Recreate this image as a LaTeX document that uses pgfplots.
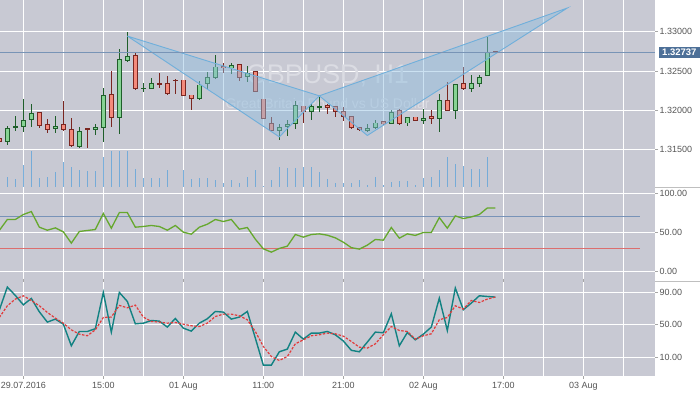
\documentclass[border=0pt]{standalone}
\usepackage{fontspec}
\setmainfont{Liberation Sans}
\usepackage{pgfplots}
\usepackage{pgfplotstable}
\pgfplotsset{compat=1.18}

\definecolor{bg}{HTML}{C8C9D3}
\definecolor{gfill}{HTML}{86D393}
\definecolor{gline}{HTML}{1F5E2A}
\definecolor{rfill}{HTML}{F48A7B}
\definecolor{rline}{HTML}{7A2620}
\definecolor{vol}{HTML}{6CA8D9}
\definecolor{pline}{HTML}{7894B6}
\definecolor{pbox}{HTML}{4D7098}
\definecolor{pat}{HTML}{8DBDE0}
\definecolor{patedge}{HTML}{6FAFDB}
\definecolor{rsi}{HTML}{66A82E}
\definecolor{stoch}{HTML}{128282}
\definecolor{sig}{HTML}{E23B3B}
\definecolor{lvlblue}{HTML}{7893B8}
\definecolor{lvlred}{HTML}{DC6E6E}
\definecolor{wm}{HTML}{DBDCE3}
\definecolor{tickc}{HTML}{555555}

% green (bullish) candles: i open high low close
\pgfplotstableread{
i o h l c
0 1.31597 1.31797 1.31563 1.31780
1 1.31784 1.31924 1.31737 1.31792
2 1.31788 1.32141 1.31724 1.31882
3 1.31882 1.32077 1.31788 1.31972
6 1.31762 1.31924 1.31711 1.31806
9 1.31533 1.31784 1.31520 1.31742
11 1.31755 1.31822 1.31686 1.31784
12 1.31780 1.32282 1.31597 1.32188
14 1.31908 1.32779 1.31699 1.32648
15 1.32630 1.32992 1.32617 1.32686
17 1.32275 1.32342 1.32234 1.32282
18 1.32278 1.32405 1.32278 1.32342
24 1.32145 1.32367 1.32132 1.32329
25 1.32329 1.32495 1.32278 1.32418
26 1.32418 1.32699 1.32393 1.32558
28 1.32533 1.32609 1.32469 1.32571
30 1.32418 1.32562 1.32362 1.32469
34 1.31742 1.31831 1.31627 1.31793
35 1.31788 1.31873 1.31673 1.31831
36 1.31831 1.32112 1.31762 1.32061
38 1.31972 1.32086 1.31882 1.32048
39 1.32044 1.32171 1.31984 1.32048
45 1.31742 1.31831 1.31729 1.31780
46 1.31780 1.31882 1.31768 1.31844
48 1.31831 1.31997 1.31831 1.31984
50 1.31831 1.31908 1.31801 1.31908
52 1.31870 1.32023 1.31831 1.31908
54 1.31895 1.32214 1.31729 1.32125
56 1.31997 1.32329 1.31895 1.32329
58 1.32278 1.32444 1.32227 1.32342
59 1.32342 1.32444 1.32291 1.32431
60 1.32431 1.32936 1.32431 1.32737
}\greencandles

% red (bearish) candles
\pgfplotstableread{
i o h l c
-1 1.31653 1.31669 1.31580 1.31597
4 1.31984 1.31984 1.31775 1.31801
5 1.31831 1.31886 1.31711 1.31755
7 1.31831 1.32116 1.31733 1.31755
8 1.31768 1.31899 1.31533 1.31546
10 1.31771 1.31780 1.31520 1.31764
13 1.32214 1.32498 1.31788 1.31908
16 1.32699 1.32728 1.32265 1.32278
19 1.32342 1.32473 1.32291 1.32333
20 1.32342 1.32431 1.32196 1.32214
21 1.32387 1.32393 1.32205 1.32380
22 1.32393 1.32393 1.32188 1.32188
23 1.32201 1.32201 1.32010 1.32150
27 1.32566 1.32597 1.32477 1.32533
29 1.32584 1.32584 1.32375 1.32418
31 1.32495 1.32495 1.32227 1.32227
32 1.32150 1.32150 1.31895 1.31895
33 1.31844 1.31912 1.31742 1.31742
37 1.32061 1.32061 1.31844 1.31972
40 1.32061 1.32086 1.31946 1.32035
41 1.32048 1.32048 1.31921 1.31984
42 1.31997 1.32048 1.31870 1.31921
43 1.31933 1.31933 1.31755 1.31780
44 1.31793 1.31793 1.31733 1.31755
47 1.31857 1.31857 1.31819 1.31831
49 1.31997 1.32010 1.31806 1.31831
51 1.31921 1.31921 1.31870 1.31870
53 1.31921 1.32010 1.31831 1.31895
55 1.32137 1.32367 1.31997 1.31997
57 1.32354 1.32546 1.32252 1.32278
61 1.32762 1.32762 1.32737 1.32737
}\redcandles

% tick volume (relative)
\pgfplotstableread{
i v
0 10.3
1 8
2 22.3
3 36
4 9.3
5 10.3
6 15
7 25
8 20.3
9 17
10 16
11 16
12 30.3
13 36
14 36
15 36
16 18
17 9.3
18 9.3
19 9.3
20 17
22 17
23 8
24 9.3
25 9.3
26 7
27 4.3
28 7
29 4.3
30 10.3
31 17
32 1.3
33 7
34 20.3
35 19.3
36 19.3
37 20.3
38 20.3
39 15
40 8
41 4.3
42 4.3
43 4.3
44 7
45 2
46 10.3
47 2
48 5.3
49 6.3
50 6.3
51 2
52 9.3
53 10.3
54 17
55 30.3
56 23
57 21.3
58 18
59 18
60 30.3
}\volume

% oscillators: i rsi stoch signal
\pgfplotstableread{
i rsi st sg
-1 52.7 68.2 59.0
0 66.7 96.4 73.4
1 66.7 86.1 81.6
2 73.1 74.6 85.7
3 76.9 82.4 79.9
4 56.8 66.0 73.4
5 52.9 53.3 65.2
6 55.9 57.0 58.2
7 50.8 50.8 52.0
8 36.3 24.2 43.8
9 51.3 41.8 38.5
10 52.6 41.8 36.5
11 53.8 45.1 43.8
12 74.4 89.8 59.0
13 55.5 41.0 59.5
14 75.6 89.8 73.8
15 75.6 78.7 70.9
16 56.8 51.2 74.2
17 57.7 52.0 59.5
18 59.0 55.3 54.1
19 57.7 54.5 53.3
20 52.9 47.2 52.0
21 59.0 57.8 52.8
22 50.4 45.9 50.8
23 47.8 42.2 48.8
24 56.8 52.0 47.9
25 60.6 57.4 52.0
26 66.7 66.4 60.2
27 64.1 65.6 63.1
28 66.7 57.0 63.1
29 54.2 59.5 61.1
30 56.4 66.4 56.2
31 41.4 33.6 41.8
32 29.0 0.4 23.3
33 24.7 0.4 11.0
34 29.5 16.8 6.1
35 32.4 20.1 11.0
36 47.4 41.0 26.6
37 44.0 32.4 31.5
38 47.4 39.8 36.5
39 48.2 39.8 37.7
40 46.5 41.8 39.8
41 43.1 37.7 38.9
42 37.5 30.1 36.0
43 30.5 18.6 29.5
44 28.6 16.8 22.5
45 33.7 28.7 21.3
46 41.0 41.0 26.6
47 40.1 40.2 37.7
48 56.4 63.5 47.9
49 42.7 24.2 43.0
50 48.2 40.5 41.8
51 46.2 31.5 32.4
52 50.0 38.5 36.5
53 50.0 47.2 38.9
54 69.2 82.8 56.2
55 55.5 43.0 59.0
56 71.3 95.2 73.4
57 67.9 68.5 69.3
58 70.0 76.7 79.9
59 73.1 85.7 77.4
60 81.5 84.8 81.6
61 81.5 84.1 84.1
}\osc

\pgfplotsset{
  panel/.style={
    scale only axis, width=655bp, anchor=south west,
    xmin=-0.917, xmax=80.96,
    axis background/.style={fill=bg},
    axis line style={draw=none},
    grid=both,
    grid style={white, line width=0.9bp},
    minor grid style={white, line width=0.9bp},
    xtick={2,12,...,72}, minor xtick={7,17,...,77},
    ytick pos=right, yticklabel pos=right,
    tick align=outside, major tick length=3bp, minor tick length=0bp,
    ytick style={draw=black!35, line width=0.6bp},
    yticklabel style={font=\fontsize{9}{10}\selectfont, text=tickc, inner sep=1.5bp},
    /pgf/number format/assume math mode=true,
    clip mode=individual,
  },
  wick/.style={draw=none, mark=none, forget plot,
    error bars/.cd, y dir=both, y explicit, error mark=none,
    error bar style={draw=#1, line width=0.9bp}},
  body/.style 2 args={draw=none, mark=none, forget plot,
    error bars/.cd, y dir=both, y explicit, error mark=none,
    error bar style={draw=#1, line width=#2}},
}

\begin{document}
\begin{tikzpicture}
\fill[white] (0,0) rectangle (700bp,394bp);
\path[use as bounding box] (0,0) rectangle (700bp,394bp);

% ---------------- price panel ----------------
\begin{axis}[panel, at={(0bp,206.7bp)}, height=187.3bp,
  ymin=1.31019, ymax=1.33404,
  ytick={1.315,1.32,1.325,1.33}, scaled y ticks=false,
  yticklabel style={/pgf/number format/fixed, /pgf/number format/fixed zerofill, /pgf/number format/precision=5},
  xticklabels={}, xtick style={draw=none}]
\node[text=wm, font=\fontsize{27}{27}\selectfont] at (rel axis cs:0.5,0.594) {GBPUSD, H1};
\node[text=wm, font=\fontsize{14}{14}\selectfont] at (rel axis cs:0.5,0.449) {Great Britain Pound vs US Dollar};
% wicks
\addplot[wick=gline] table[x=i, y expr={(\thisrow{h}+\thisrow{l})/2}, y error expr={(\thisrow{h}-\thisrow{l})/2}] {\greencandles};
\addplot[wick=rline] table[x=i, y expr={(\thisrow{h}+\thisrow{l})/2}, y error expr={(\thisrow{h}-\thisrow{l})/2}] {\redcandles};
% bodies: outline then fill
\addplot[body={gline}{5bp}] table[x=i, y expr={(\thisrow{o}+\thisrow{c})/2}, y error expr={max(abs(\thisrow{c}-\thisrow{o})/2,0.00007)}] {\greencandles};
\addplot[body={gfill}{3.2bp}] table[x=i, y expr={(\thisrow{o}+\thisrow{c})/2}, y error expr={max(abs(\thisrow{c}-\thisrow{o})/2-0.000125,0)}] {\greencandles};
\addplot[body={rline}{5bp}] table[x=i, y expr={(\thisrow{o}+\thisrow{c})/2}, y error expr={max(abs(\thisrow{c}-\thisrow{o})/2,0.00007)}] {\redcandles};
\addplot[body={rfill}{3.2bp}] table[x=i, y expr={(\thisrow{o}+\thisrow{c})/2}, y error expr={max(abs(\thisrow{c}-\thisrow{o})/2-0.000125,0)}] {\redcandles};
% butterfly pattern (X-A-B, B-C-D)
\addplot[fill=pat, fill opacity=0.45, draw=patedge, line width=0.9bp, forget plot]
  coordinates {(15.0,1.32945) (34.0,1.31661) (39.0,1.32184) (15.0,1.32945)};
\addplot[fill=pat, fill opacity=0.45, draw=patedge, line width=0.9bp, forget plot]
  coordinates {(39.0,1.32184) (45.0,1.31679) (70.0,1.33302) (39.0,1.32184)};
% current price
\addplot[pline, line width=0.9bp, forget plot] coordinates {(-0.917,1.32737) (80.96,1.32737)};
\node[fill=pbox, text=white, font=\bfseries\fontsize{9.5}{10}\selectfont, anchor=west,
      minimum width=41.7bp, minimum height=11.7bp, inner sep=1bp, xshift=3.3bp]
  at (axis cs:80.96,1.32737) {1.32737};
\end{axis}

% volume overlay
\begin{axis}[scale only axis, width=655bp, height=187.3bp, at={(0bp,206.7bp)}, anchor=south west,
  xmin=-0.917, xmax=80.96, ymin=0, ymax=187.3, hide axis]
\addplot[ycomb, vol, line width=1bp, mark=none, opacity=0.9] table[x=i, y=v] {\volume};
\end{axis}

% ---------------- RSI panel ----------------
\begin{axis}[panel, at={(0bp,112.3bp)}, height=94.4bp,
  ymin=-13.3, ymax=108.1, ytick={0,50,100},
  yticklabel style={/pgf/number format/fixed, /pgf/number format/fixed zerofill, /pgf/number format/precision=2},
  xticklabels={}, xtick style={draw=none}]
\addplot[lvlblue, line width=0.9bp, forget plot] coordinates {(-0.917,70) (79.08,70)};
\addplot[lvlred, line width=0.9bp, forget plot] coordinates {(-0.917,30) (79.08,30)};
\addplot[rsi, line width=1.3bp, mark=none] table[x=i, y=rsi] {\osc};
\end{axis}

% ---------------- Stochastic panel ----------------
\begin{axis}[panel, at={(0bp,18.3bp)}, height=94bp,
  ymin=-12.6, ymax=103, ytick={10,50,90},
  yticklabel style={/pgf/number format/fixed, /pgf/number format/fixed zerofill, /pgf/number format/precision=2},
  xticklabels={29.07.2016,15:00,01 Aug,11:00,21:00,02 Aug,17:00,03 Aug},
  xtick style={draw=black!35, line width=0.6bp},
  xticklabel style={font=\fontsize{9}{10}\selectfont, text=tickc}]
\addplot[stoch, line width=1.4bp, mark=none] table[x=i, y=st] {\osc};
\addplot[sig, line width=1.2bp, mark=none, dash pattern=on 2.5bp off 1.5bp] table[x=i, y=sg] {\osc};
\end{axis}

% panel separators in the scale area
\draw[black!25, line width=0.8bp] (655bp,206.7bp) -- (700bp,206.7bp);
\draw[black!25, line width=0.8bp] (655bp,112.3bp) -- (700bp,112.3bp);
\end{tikzpicture}
\end{document}
